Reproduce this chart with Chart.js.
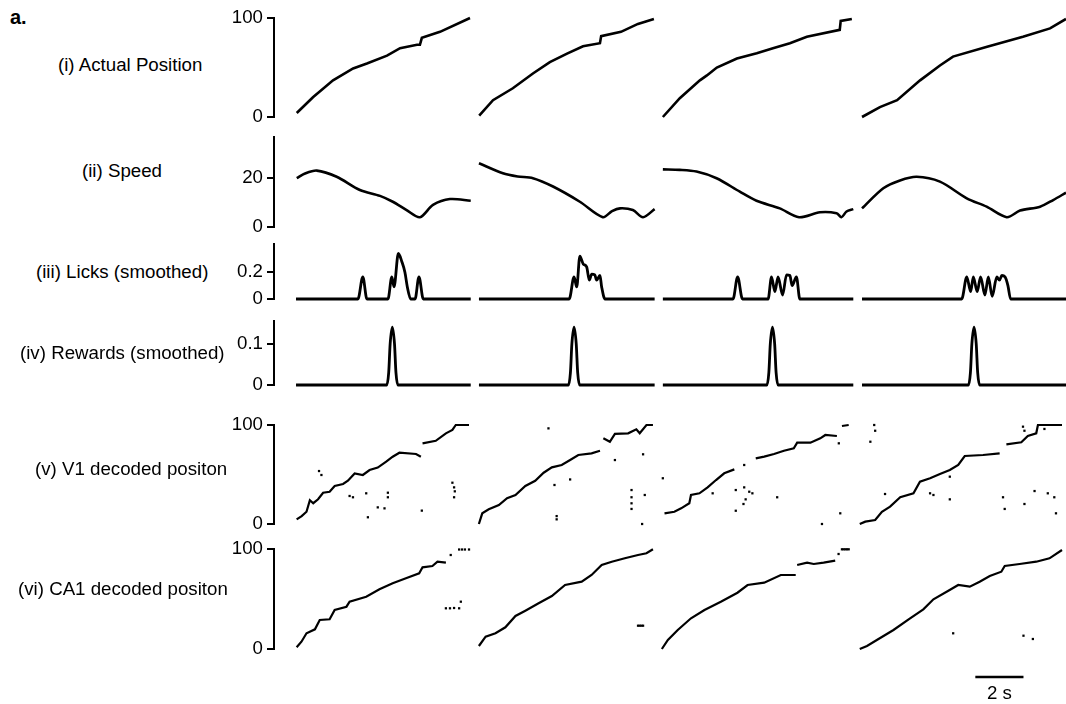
<!DOCTYPE html>
<html>
<head>
<meta charset="utf-8">
<script src="https://cdn.jsdelivr.net/npm/chart.js@4.4.1/dist/chart.umd.min.js"></script>
<style>
  body { margin: 0; background: #fff; }
  #fig { position: relative; width: 1066px; height: 704px; overflow: hidden; background: #fff; }
  .lbl { position: absolute; font: 18.7px "Liberation Sans", Arial, sans-serif; color: #000; white-space: nowrap; transform: translateY(-50%); }
  canvas { position: absolute; }
</style>
</head>
<body>
<div id="fig">
  <div class="lbl" style="left:10px; top:17px; font-weight:bold; font-size:20px;">a.</div>
</div>
<script>
// ---- data (time in s from the start of each trial) ----
const trialStarts = [0.91, 8.47, 16.07, 24.30]; // where each trial panel begins on the shared time axis

const posTime = [
  [0.03, 0.70, 1.53, 2.36, 2.93, 3.76, 4.30, 5.00, 5.12, 5.20, 5.95, 7.19],
  [0.01, 0.58, 1.40, 2.23, 2.93, 3.64, 4.30, 5.00, 5.05, 5.87, 6.57, 7.23],
  [0.00, 0.70, 1.53, 1.82, 2.23, 3.06, 3.88, 4.55, 5.25, 5.95, 7.31, 7.35, 7.81],
  [0.00, 0.74, 1.45, 2.40, 3.22, 3.76, 5.17, 6.65, 7.77, 8.43]
];
const posValue = [
  [4, 20, 37, 49, 54, 62, 69.5, 73, 73, 80, 86, 100],
  [1.5, 17, 29, 44, 55.5, 64, 71.5, 74.5, 81.7, 86, 94, 99],
  [0, 19, 37, 42, 50, 59, 64.5, 69.5, 74.5, 81, 88, 97, 99],
  [0, 10, 17, 37, 52, 61, 71, 81, 89.5, 99]
];

const speedTime = [
  [0.03, 0.37, 0.86, 1.68, 2.64, 3.47, 4.00, 4.57, 5.12, 5.66, 6.36, 7.22],
  [0.00, 0.99, 1.60, 2.23, 3.06, 4.17, 5.12, 5.50, 5.83, 6.36, 6.78, 7.26],
  [0.00, 0.70, 1.39, 2.22, 3.18, 3.87, 4.83, 5.63, 6.49, 7.18, 7.38, 7.59, 7.87],
  [0.00, 0.88, 1.57, 2.26, 3.22, 4.33, 5.15, 5.98, 6.53, 7.36, 7.90, 8.43]
];
const speedValue = [
  [19.9, 21.8, 23, 20.5, 15.1, 12.7, 10.3, 6.9, 4, 9, 11.4, 10.7],
  [26, 21.9, 20.6, 19.9, 16.5, 10.3, 4, 6.5, 7.6, 6.9, 4, 7.3],
  [23.5, 23.3, 22.6, 19.9, 14.4, 10.7, 7.6, 4, 6, 5.6, 4, 6.3, 7.3],
  [7.6, 15.8, 19, 20.5, 18.5, 11.7, 8.3, 4, 6.7, 8.3, 11, 14]
];

const lickTime = [
  [0, 2.56, 2.76, 2.93, 3.80, 3.96, 4.05, 4.23, 4.37, 4.50, 4.60, 4.74, 4.92, 5.08, 5.26, 7.22],
  [0, 3.73, 3.93, 4.04, 4.17, 4.31, 4.45, 4.56, 4.66, 4.79, 4.86, 5.00, 5.07, 5.21, 7.26],
  [0, 2.90, 3.09, 3.29, 4.35, 4.49, 4.63, 4.76, 4.95, 5.11, 5.25, 5.34, 5.52, 5.66, 7.87],
  [0, 4.12, 4.33, 4.49, 4.60, 4.76, 4.90, 5.08, 5.22, 5.38, 5.57, 5.68, 5.78, 5.91, 6.03, 6.14, 8.43]
];
const lickValue = [
  [0, 0, 0.165, 0, 0, 0.165, 0.09, 0.34, 0.28, 0.20, 0.09, 0, 0, 0.165, 0, 0],
  [0, 0, 0.165, 0.09, 0.32, 0.26, 0.24, 0.14, 0.185, 0.18, 0.14, 0.175, 0.09, 0, 0],
  [0, 0, 0.165, 0, 0, 0.165, 0.055, 0.165, 0.03, 0.18, 0.175, 0.1, 0.165, 0, 0],
  [0, 0, 0.165, 0.055, 0.165, 0.055, 0.165, 0.03, 0.165, 0.02, 0.165, 0.14, 0.175, 0.165, 0.1, 0, 0]
];

const rewardTime = [
  [0, 3.75, 3.83, 3.89, 3.98, 4.07, 4.13, 4.21, 7.22],
  [0, 3.70, 3.78, 3.84, 3.93, 4.02, 4.08, 4.16, 7.26],
  [0, 4.30, 4.38, 4.44, 4.53, 4.62, 4.68, 4.76, 7.87],
  [0, 4.40, 4.48, 4.54, 4.63, 4.72, 4.78, 4.86, 8.43]
];
const rewardValue = [
  [0, 0, 0.03, 0.1, 0.141, 0.1, 0.03, 0, 0],
  [0, 0, 0.03, 0.1, 0.141, 0.1, 0.03, 0, 0],
  [0, 0, 0.03, 0.1, 0.141, 0.1, 0.03, 0, 0],
  [0, 0, 0.03, 0.1, 0.141, 0.1, 0.03, 0, 0]
];

// decoded position: main trace (null = break) and stray bins
const v1Time = [
  [0.03, 0.24, 0.44, 0.58, 0.72, 0.92, 1.13, 1.40, 1.61, 1.96, 2.16, 2.44, 2.78, 3.06, 3.40, 3.75, 4.02, 4.30, 4.99, 5.19, 5.22, 5.26, 5.81, 6.23, 6.50, 6.64, 7.19],
  [0.04, 0.18, 0.45, 0.87, 1.21, 1.56, 1.97, 2.38, 2.73, 3.07, 3.48, 3.83, 4.17, 4.72, 5.07, 5.14, 5.21, 5.48, 5.69, 6.24, 6.58, 6.72, 7.00, 7.27],
  [0.15, 0.56, 0.84, 1.18, 1.25, 1.60, 1.94, 2.29, 2.63, 3.05, 3.50, 3.94, 4.29, 4.70, 5.11, 5.52, 5.66, 6.21, 6.62, 6.83, 7.31, 7.40, 7.52, 7.80],
  [0.03, 0.26, 0.67, 0.95, 1.29, 1.71, 2.26, 2.53, 2.95, 3.36, 3.77, 4.12, 4.39, 5.15, 5.84, 6.00, 6.12, 6.74, 7.01, 7.36, 7.43, 7.90, 8.43]
];
const v1Value = [
  [4.7, 8, 12.4, 24, 21, 25, 31.6, 32.6, 38.4, 40.4, 43.7, 51, 49.5, 54.5, 57, 63, 68, 72, 70.7, 68, null, 81.5, 84, 91.6, 95, 100, 100],
  [0, 10.8, 14.8, 19.2, 26, 29.3, 38.4, 43.7, 51.8, 57.2, 59.6, 64.6, 69.7, 71.4, 74, null, 86.6, 83.1, 91, 91.6, 95.6, 91.6, 100, 100],
  [10.8, 12.4, 15.8, 20.9, 29.3, 31, 37, 44.4, 51.2, 55.2, null, 66.3, 68, 70.7, 74, 76.4, 82.1, 82.1, 86.5, 89.9, 88.9, null, 99, 100],
  [0, 2.4, 4, 12.4, 17.5, 27, 31, 42.7, 46.2, 50.5, 54.5, 59.6, 68.7, 69.7, 71.4, null, 80.5, 82.5, 88.9, 91.6, 100, 100, 100]
];
const v1StrayTime = [
  [0.96, 1.06, 2.23, 2.37, 2.92, 2.99, 3.40, 3.68, 3.82, 3.82, 5.23, 6.50, 6.57, 6.60, 6.57],
  [2.93, 5.69, 6.86, 3.83, 3.18, 6.38, 6.38, 6.38, 6.38, 6.93, 3.27, 3.27, 6.82],
  [0.08, 2.15, 3.11, 3.46, 3.67, 3.80, 3.52, 3.43, 3.11, 3.46, 4.83, 6.69, 7.45, 7.39],
  [0.47, 0.63, 0.67, 1.08, 2.95, 3.09, 3.77, 3.77, 5.98, 6.05, 6.87, 7.29, 7.84, 8.11, 8.18, 6.81, 6.87, 7.70]
];
const v1StrayValue = [
  [53.5, 49.5, 28.3, 27, 31, 6.8, 16.8, 15.8, 31.6, 27, 13.5, 41.7, 37, 33, 27],
  [96.6, 64.6, 70.4, 45, 39.4, 34.3, 27, 20.9, 15.2, 29.3, 8, 4.7, 0],
  [46.2, 31, 34.3, 37, 32.6, 31, 24.9, 20.2, 13.4, 59.6, 27, 0, 10.8, 81.5],
  [83.1, 100, 94.2, 30.3, 31, 29.3, 24.9, 47.8, 27, 15.2, 20.2, 33.3, 31, 27, 10.8, 98.3, 94.2, 96]
];

const ca1Time = [
  [0.03, 0.23, 0.44, 0.79, 0.99, 1.40, 1.61, 2.10, 2.23, 2.92, 3.47, 4.02, 4.57, 5.12, 5.26, 5.67, 5.88, 6.23],
  [0.04, 0.32, 0.73, 1.14, 1.56, 1.97, 2.52, 3.07, 3.62, 4.31, 4.72, 5.14, 5.56, 6.10, 6.65, 7.00, 7.27],
  [0.04, 0.29, 0.70, 1.25, 1.81, 2.49, 3.18, 3.60, 4.29, 4.98, 5.60, 5.63, 5.66, 6.07, 6.35, 6.76, 7.24],
  [0.03, 0.33, 0.74, 1.43, 2.12, 2.67, 3.09, 3.71, 4.12, 4.60, 5.01, 5.43, 5.91, 6.05, 6.67, 7.36, 7.91, 8.43]
];
const ca1Value = [
  [1.7, 7.3, 15.7, 19.7, 29, 29.7, 39, 42.3, 47.3, 52.3, 59.7, 65.7, 70.7, 75.7, 81.7, 83, 87.3, 86.3],
  [3, 12.3, 15.7, 21.7, 33, 38.3, 45.7, 53, 64, 67.3, 74, 84, 87.3, 90.7, 94, 95.7, 99.7],
  [0, 9, 19, 30.7, 39, 47.3, 56.3, 64, 66.3, 74, 74, null, 84, 86.3, 85, 86.3, 88.3],
  [0, 3, 9, 19, 30.7, 39.7, 49.7, 58.3, 64, 62.3, 67.3, 73, 77.3, 83, 85, 87.3, 90.7, 99]
];
const ca1StrayTime = [
  [6.43, 6.78, 6.90, 7.02, 7.19, 6.23, 6.40, 6.57, 6.78, 6.85],
  [6.65, 6.72, 6.79, 6.86],
  [7.38, 7.52, 7.59, 7.66, 7.73, 7.80],
  [3.91, 6.83, 7.22]
];
const ca1StrayValue = [
  [94, 99.5, 99.5, 99.5, 99.5, 40.7, 40.7, 41, 40.7, 47.3],
  [23.3, 23.3, 23.3, 23.3],
  [95, 99.7, 99.7, 99.7, 99.7, 99.7],
  [15.7, 13.3, 10]
];

const scaleBarStart = 29.13;  // s on the shared axis
const scaleBarSeconds = 2;

// ---- layout ----
const FONT = '"Liberation Sans", Arial, sans-serif';
const PAD = 18;
const X_MAX = 32.73;

const panels = [
  { label: '(i) Actual Position', lx: 58, ly: 65, top: 18, bottom: 117, min: 0, max: 100, ticks: [0, 100],
    times: posTime, values: posValue, width: 2.6 },
  { label: '(ii) Speed', lx: 82, ly: 171, top: 137, bottom: 227, min: 0, max: 36.7, ticks: [0, 20],
    times: speedTime, values: speedValue, width: 2.6, tension: 0.3 },
  { label: '(iii) Licks (smoothed)', lx: 36, ly: 272, top: 244, bottom: 299, min: 0, max: 0.41, ticks: [0, 0.2],
    times: lickTime, values: lickValue, width: 2.8, monotone: true },
  { label: '(iv) Rewards (smoothed)', lx: 20, ly: 353, top: 321, bottom: 385, min: 0, max: 0.156, ticks: [0, 0.1],
    times: rewardTime, values: rewardValue, width: 2.8, monotone: true },
  { label: '(v) V1 decoded positon', lx: 35, ly: 469, top: 425, bottom: 524, min: 0, max: 100, ticks: [0, 100],
    times: v1Time, values: v1Value, strayT: v1StrayTime, strayV: v1StrayValue, width: 2.2 },
  { label: '(vi) CA1 decoded positon', lx: 18, ly: 589, top: 549, bottom: 649, min: 0, max: 100, ticks: [0, 100],
    times: ca1Time, values: ca1Value, strayT: ca1StrayTime, strayV: ca1StrayValue, width: 2.2, scaleBar: true }
];

const scaleBarPlugin = {
  id: 'scaleBar',
  afterDraw(chart) {
    const ctx = chart.ctx;
    const x = chart.scales.x;
    const x0 = x.getPixelForValue(scaleBarStart);
    const x1 = x.getPixelForValue(scaleBarStart + scaleBarSeconds);
    const y = chart.chartArea.bottom + 28;
    ctx.save();
    ctx.strokeStyle = '#000';
    ctx.lineWidth = 2.5;
    ctx.beginPath();
    ctx.moveTo(x0, y);
    ctx.lineTo(x1, y);
    ctx.stroke();
    ctx.fillStyle = '#000';
    ctx.font = '18.7px ' + FONT;
    ctx.textAlign = 'center';
    ctx.textBaseline = 'middle';
    ctx.fillText(scaleBarSeconds + ' s', (x0 + x1) / 2, y + 17);
    ctx.restore();
  }
};

const fig = document.getElementById('fig');

panels.forEach(p => {
  const padBottom = p.scaleBar ? 704 - p.bottom : PAD;
  const cv = document.createElement('canvas');
  cv.width = 846;
  cv.height = (p.bottom - p.top) + PAD + padBottom;
  cv.style.left = '220px';
  cv.style.top = (p.top - PAD) + 'px';
  fig.appendChild(cv);

  const datasets = p.times.map((ts, k) => {
    const ds = {
      data: ts.map((t, j) => ({ x: trialStarts[k] + t, y: p.values[k][j] })),
      borderColor: '#000',
      borderWidth: p.width,
      pointRadius: 0,
      clip: false,
      tension: p.tension || 0
    };
    if (p.monotone) ds.cubicInterpolationMode = 'monotone';
    return ds;
  });
  if (p.strayT) {
    p.strayT.forEach((ts, k) => {
      datasets.push({
        data: ts.map((t, j) => ({ x: trialStarts[k] + t, y: p.strayV[k][j] })),
        showLine: false,
        pointStyle: 'rect',
        pointRadius: 1.6,
        pointBackgroundColor: '#000',
        pointBorderWidth: 0,
        clip: false
      });
    });
  }

  new Chart(cv, {
    type: 'line',
    data: { datasets },
    plugins: p.scaleBar ? [scaleBarPlugin] : [],
    options: {
      responsive: false,
      animation: false,
      events: [],
      layout: { padding: { top: PAD, bottom: padBottom, left: 0, right: 0 } },
      plugins: { legend: { display: false }, tooltip: { enabled: false } },
      scales: {
        x: { type: 'linear', display: false, min: 0, max: X_MAX },
        y: {
          min: p.min,
          max: p.max,
          afterFit: s => { s.width = 54; },
          afterBuildTicks: s => { s.ticks = p.ticks.map(v => ({ value: v })); },
          grid: { drawOnChartArea: false, drawTicks: true, tickLength: 7, color: '#000', lineWidth: 2 },
          border: { display: true, color: '#000', width: 2 },
          ticks: { color: '#000', padding: 4, font: { size: 18.7, family: FONT }, callback: v => String(v) }
        }
      }
    }
  });
});

// row titles on the left
panels.forEach(p => {
  const lbl = document.createElement('div');
  lbl.className = 'lbl';
  lbl.style.left = p.lx + 'px';
  lbl.style.top = p.ly + 'px';
  lbl.textContent = p.label;
  fig.appendChild(lbl);
});
</script>
</body>
</html>
